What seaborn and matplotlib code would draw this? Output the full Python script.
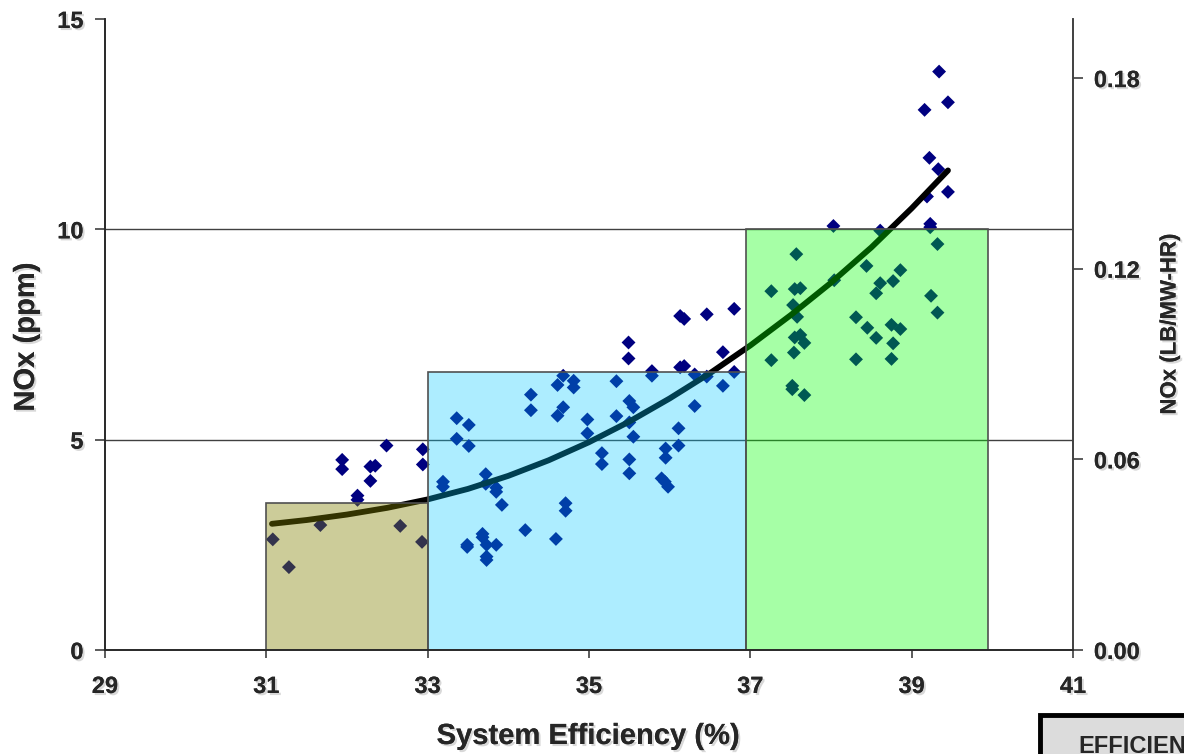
import numpy as np
import pandas as pd
import matplotlib
matplotlib.use("Agg")
import matplotlib.pyplot as plt
import matplotlib.patheffects as pe
from matplotlib.patches import Rectangle
import seaborn as sns

# Measured points: system efficiency (%) vs NOx (ppm)
efficiency = [
    32.49, 32.94, 31.94, 31.94, 32.29, 32.35, 32.94, 32.29, 32.13, 32.13,
    31.67, 31.08, 32.66, 32.93, 31.28,
    34.68, 34.61, 34.81, 34.81, 34.28, 34.28, 34.68, 34.61, 34.98, 34.98,
    33.36, 33.51, 33.36, 33.51, 33.19, 33.19, 33.72, 33.72, 33.85, 33.85,
    33.92, 34.71, 34.71, 34.21, 34.59, 33.68, 33.68, 33.49, 33.49, 33.73,
    33.85, 33.73, 33.73,
    36.13, 36.18, 36.46, 36.80, 35.49, 35.49, 36.66, 36.13, 36.18, 35.78,
    35.78, 36.31, 36.46, 36.80, 36.66, 35.34, 35.50, 35.55, 36.31, 35.34,
    35.50, 35.55, 36.11, 36.11, 35.95, 35.95, 35.16, 35.16, 35.50, 35.50,
    35.90, 35.94, 35.98,
    38.03, 38.61, 39.23, 39.23, 39.32, 37.57, 38.44, 38.86, 38.61, 38.77,
    38.56, 37.26, 37.55, 37.62, 38.04, 39.24, 39.32, 37.53, 37.58, 38.31,
    38.45, 38.75, 38.86, 38.56, 38.77, 37.55, 37.62, 37.67, 37.54, 37.26,
    38.31, 38.75, 37.52, 37.52, 37.67,
    39.34, 39.16, 39.45, 39.22, 39.33, 39.45, 39.19,
]
nox_ppm = [
    4.86, 4.77, 4.52, 4.30, 4.36, 4.38, 4.41, 4.02, 3.67, 3.57,
    2.97, 2.63, 2.95, 2.57, 1.97,
    6.52, 6.30, 6.40, 6.24, 6.07, 5.70, 5.77, 5.57, 5.48, 5.15,
    5.51, 5.35, 5.02, 4.85, 4.00, 3.88, 4.18, 3.95, 3.86, 3.76,
    3.45, 3.49, 3.31, 2.85, 2.64, 2.76, 2.68, 2.50, 2.45, 2.50,
    2.50, 2.22, 2.14,
    7.94, 7.87, 7.98, 8.11, 7.31, 6.93, 7.08, 6.72, 6.75, 6.63,
    6.52, 6.55, 6.50, 6.61, 6.28, 6.39, 5.92, 5.77, 5.80, 5.56,
    5.41, 5.07, 5.27, 4.86, 4.79, 4.57, 4.68, 4.42, 4.53, 4.20,
    4.08, 4.00, 3.88,
    10.08, 9.97, 10.13, 10.05, 9.65, 9.41, 9.13, 9.03, 8.72, 8.77,
    8.48, 8.53, 8.58, 8.60, 8.79, 8.42, 8.02, 8.20, 7.92, 7.91,
    7.66, 7.73, 7.63, 7.42, 7.29, 7.43, 7.49, 7.30, 7.07, 6.89,
    6.91, 6.92, 6.28, 6.20, 6.06,
    13.75, 12.84, 13.02, 11.70, 11.43, 10.89, 10.78,
]

# Trend line
trend_eff = [31.07, 31.5, 32.0, 32.5, 33.0, 33.5, 34.0, 34.5, 35.0,
             35.5, 36.0, 36.5, 37.0, 37.5, 38.0, 38.5, 39.0, 39.45]
trend_nox = [3.00, 3.09, 3.22, 3.38, 3.58, 3.83, 4.14, 4.51, 4.94,
             5.43, 5.98, 6.58, 7.24, 7.96, 8.73, 9.57, 10.50, 11.40]

# Efficiency bands shown as bars
band_left = [31.0, 33.0, 36.95]
band_right = [33.0, 36.95, 39.95]
band_nox = [3.5, 6.6, 10.0]
band_colors = [(0.50, 0.50, 0.0, 0.40), (0.0, 0.78, 1.0, 0.32), (0.0, 1.0, 0.0, 0.35)]

x_ticks = [29, 31, 33, 35, 37, 39, 41]
y_ticks = [0, 5, 10, 15]
y2_ticks = [0.00, 0.06, 0.12, 0.18]
ppm_to_lb = 0.01324

df = pd.DataFrame({"efficiency": efficiency, "nox": nox_ppm})
trend = pd.DataFrame({"efficiency": trend_eff, "nox": trend_nox})

sns.set_theme(style="white")
plt.rcParams["font.family"] = ["Liberation Sans", "DejaVu Sans"]

shadow = [pe.withSimplePatchShadow(offset=(1.5, -1.5), shadow_rgbFace="gray", alpha=0.3), pe.Normal()]

fig = plt.figure(figsize=(11.84, 7.54), dpi=100)
ax = fig.add_axes([105 / 1184, 1 - 650 / 754, 968 / 1184, 631 / 754])

# grid lines
for yv in [5, 10]:
    ax.axhline(yv, color="#404040", lw=1, zorder=1)

sns.scatterplot(data=df, x="efficiency", y="nox", marker="D", color="#000080",
                s=50, edgecolor="none", ax=ax, zorder=2)
sns.lineplot(data=trend, x="efficiency", y="nox", sort=False, color="black",
             linewidth=4.2, ax=ax, zorder=3)

widths = [r - l for l, r in zip(band_left, band_right)]
ax.bar(band_left, band_nox, width=widths, align="edge", color=band_colors,
       edgecolor="#505050", linewidth=1.2, zorder=4)

ax.set_xlim(29, 41)
ax.set_ylim(0, 15)
ax.set_xticks(x_ticks)
ax.set_yticks(y_ticks)
ax.set_xlabel("")
ax.set_ylabel("")

ax.spines["top"].set_visible(False)
for side in ["left", "bottom", "right"]:
    ax.spines[side].set_color("#404040")
    ax.spines[side].set_linewidth(1.2)

ax.tick_params(axis="both", which="major", direction="out", length=7.5, width=1.2,
               color="#404040", labelsize=17, left=True, bottom=True)
ax.tick_params(axis="y", pad=8)
ax.tick_params(axis="x", length=6, pad=12)
for lab in ax.get_xticklabels() + ax.get_yticklabels():
    lab.set_fontweight("bold")
    lab.set_path_effects(shadow)

ax2 = ax.twinx()
ax2.set_ylim(0, 15 * ppm_to_lb)
ax2.set_yticks(y2_ticks)
ax2.set_yticklabels([f"{v:.2f}" for v in y2_ticks])
ax2.spines["top"].set_visible(False)
ax2.spines["right"].set_color("#404040")
ax2.spines["right"].set_linewidth(1.2)
ax2.tick_params(axis="y", direction="out", length=7, width=1.2, color="#404040",
                labelsize=17, pad=8, right=True)
for lab in ax2.get_yticklabels():
    lab.set_fontweight("bold")
    lab.set_path_effects(shadow)
ax2.grid(False)

fig.text(588 / 1184, 1 - 736 / 754, "System Efficiency (%)", ha="center", va="center",
         fontsize=21, fontweight="bold", path_effects=shadow)
fig.text(26 / 1184, 1 - 337 / 754, "NOx (ppm)", ha="center", va="center", rotation=90,
         fontsize=21, fontweight="bold", path_effects=shadow)
fig.text(1170 / 1184, 1 - 324 / 754, "NOx (LB/MW-HR)", ha="center", va="center", rotation=90,
         fontsize=16, fontweight="bold", path_effects=shadow)

# partially visible legend box in the corner
fig.patches.append(Rectangle((1040 / 1184, -0.05), 0.2, 0.05 + (754 - 715) / 754,
                             transform=fig.transFigure, facecolor="#dcdcdc",
                             edgecolor="black", linewidth=3.5, zorder=5))
fig.text(1078 / 1184, 1 - 753 / 754, "EFFICIENCY", ha="left", va="baseline",
         fontsize=17, fontweight="bold", zorder=6)

fig.savefig("out.png", dpi=100)
